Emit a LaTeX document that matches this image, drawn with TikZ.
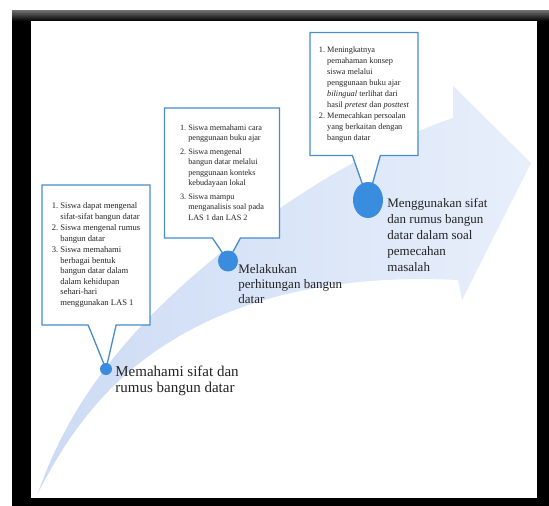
\documentclass[tikz,border=0pt]{standalone}
\usepackage{fontspec}
\setmainfont{Liberation Serif}
\usetikzlibrary{calc,positioning,shapes.callouts,shapes.geometric}

\definecolor{bandblue}{RGB}{204,219,244}
\definecolor{bandlight}{RGB}{232,239,251}
\definecolor{dotblue}{RGB}{58,140,222}
\definecolor{boxblue}{RGB}{72,140,202}
\definecolor{txtgray}{RGB}{35,35,35}

\tikzset{
  callbox/.style={rectangle callout, draw=boxblue, line width=1.3pt, fill=white,
    inner sep=0pt, text=txtgray, callout pointer width=28pt},
  bluedot/.style={ellipse, fill=dotblue, inner sep=0pt},
  lbl/.style={align=left, inner sep=0pt, text=txtgray}
}

\begin{document}
\begin{tikzpicture}[x=1pt,y=-1pt]
\useasboundingbox (0,0) rectangle (549,506);
\fill[white] (0,0) rectangle (549,506);
\fill[black] (12,10) rectangle (549,506);
\shade[top color=black!55, bottom color=black] (12,10) rectangle (549,21);
\fill[white] (31,21) rectangle (537,498);

\shade[left color=bandblue, right color=bandlight]
  (38,493) .. controls (70,400) and (130,330) .. (200,270)
  .. controls (270,210) and (360,150) .. (453,118)
  -- (453,86) -- (531,163) -- (462,300) -- (458,280)
  .. controls (360,275) and (270,290) .. (200,325)
  .. controls (130,360) and (80,410) .. (38,493) -- cycle;

\coordinate (p1) at (106,369);
\coordinate (p2) at (228,261);
\coordinate (p3) at (368,200);

\node[callbox, minimum width=108pt, minimum height=140pt,
  callout absolute pointer={(p1)}, font=\fontsize{8.6}{10.5}\selectfont] (box1) at (96,255) {%
  \begin{tabular}{@{}r@{\ }l@{}}
  1. & Siswa dapat mengenal\\
     & sifat-sifat bangun datar\\[1pt]
  2. & Siswa mengenal rumus\\
     & bangun datar\\[1pt]
  3. & Siswa memahami\\
     & berbagai bentuk\\
     & bangun datar dalam\\
     & dalam kehidupan\\
     & sehari-hari\\
     & menggunakan LAS 1
  \end{tabular}};

\node[callbox, minimum width=115pt, minimum height=130pt,
  callout absolute pointer={(p2)}, font=\fontsize{8.2}{10.5}\selectfont] (box2) at (222,173) {%
  \begin{tabular}{@{}r@{\ }l@{}}
  1. & Siswa memahami cara\\
     & penggunaan buku ajar\\[3pt]
  2. & Siswa mengenal\\
     & bangun datar melalui\\
     & penggunaan konteks\\
     & kebudayaan lokal\\[3pt]
  3. & Siswa mampu\\
     & menganalisis soal pada\\
     & LAS 1 dan LAS 2
  \end{tabular}};

\node[callbox, minimum width=108pt, minimum height=123pt,
  callout absolute pointer={(p3)}, font=\fontsize{8.3}{11}\selectfont] (box3) at (364,94) {%
  \begin{tabular}{@{}r@{\ }l@{}}
  1. & Meningkatnya\\
     & pemahaman konsep\\
     & siswa melalui\\
     & penggunaan buku ajar\\
     & \textit{bilingual} terlihat dari\\
     & hasil \textit{pretest} dan \textit{posttest}\\
  2. & Memecahkan persoalan\\
     & yang berkaitan dengan\\
     & bangun datar
  \end{tabular}};

\node[bluedot, minimum width=12pt, minimum height=12pt] (c1) at (p1) {};
\node[bluedot, minimum width=20pt, minimum height=21pt] (c2) at (p2) {};
\node[bluedot, minimum width=30pt, minimum height=36pt] (c3) at (p3) {};

\node[lbl, font=\fontsize{15}{16}\selectfont, below right=-3pt and 3pt of c1.east] (t1)
  {Memahami sifat dan\\rumus bangun datar};
\node[lbl, font=\fontsize{13}{15}\selectfont, below right=3pt and 0pt of c2.east] (t2)
  {Melakukan\\perhitungan bangun\\datar};
\node[lbl, font=\fontsize{13}{16}\selectfont, below right=-2pt and 4pt of c3.east] (t3)
  {Menggunakan sifat\\dan rumus bangun\\datar dalam soal\\pemecahan\\masalah};
\end{tikzpicture}
\end{document}
